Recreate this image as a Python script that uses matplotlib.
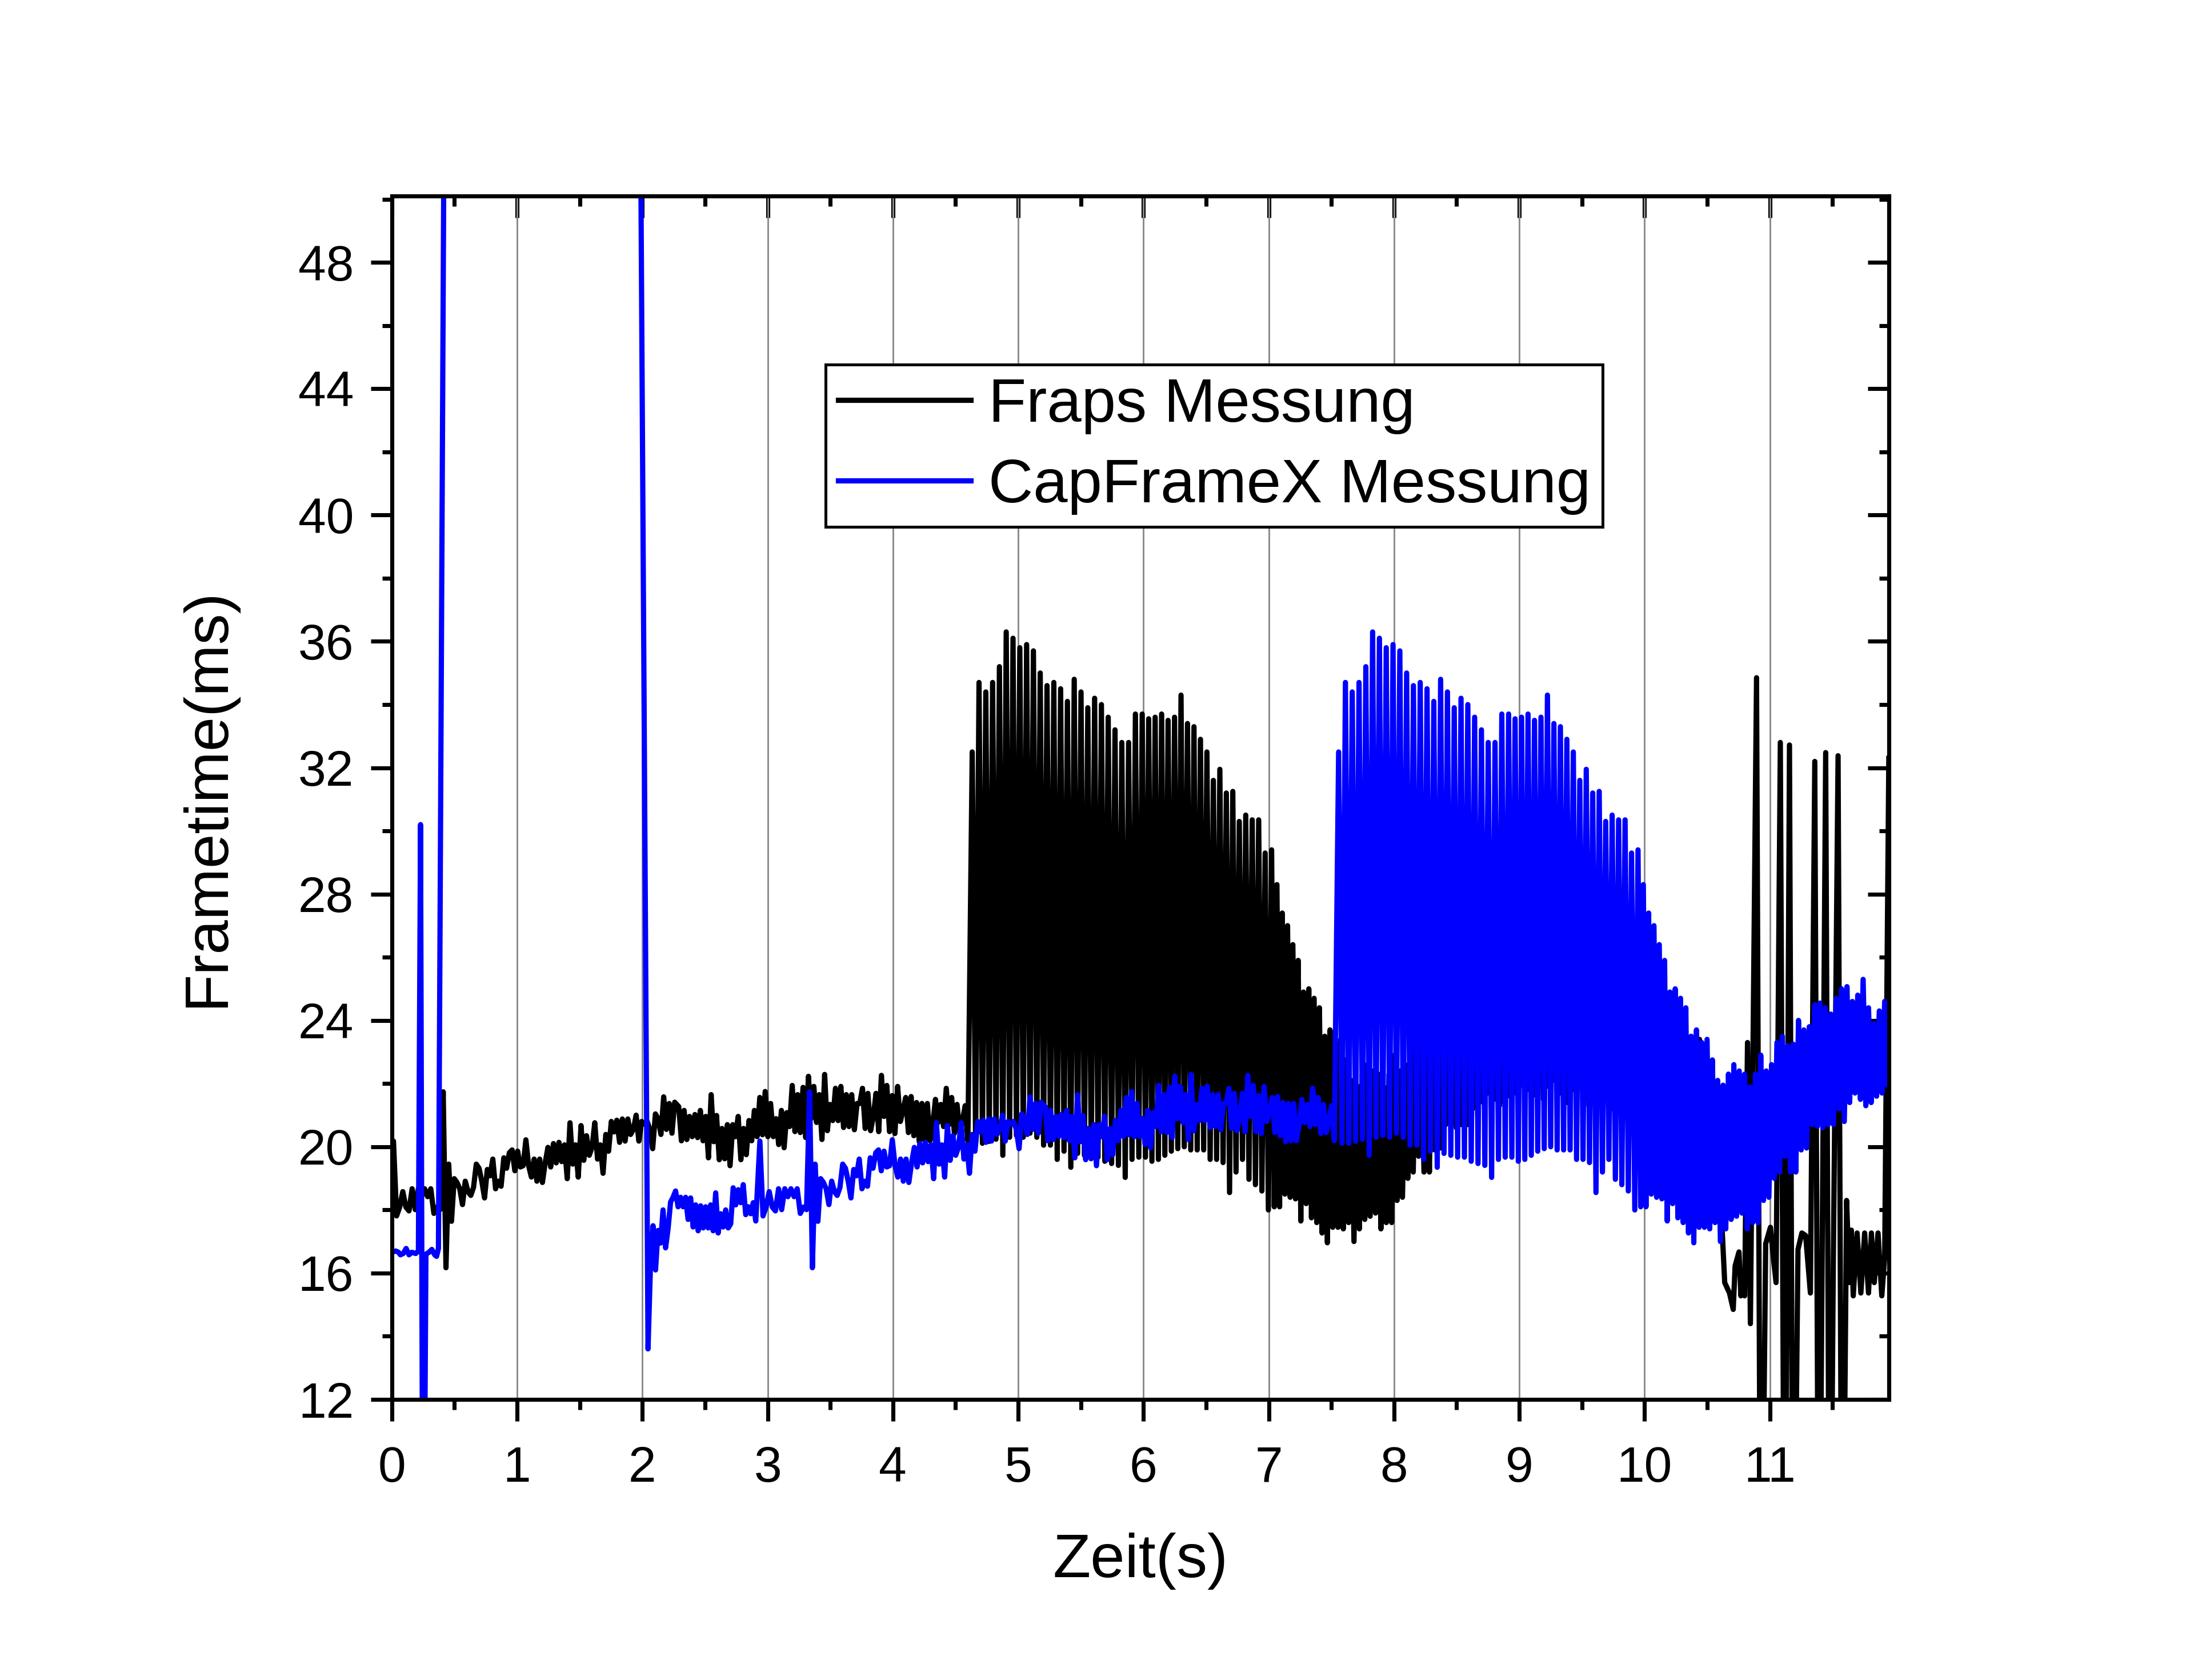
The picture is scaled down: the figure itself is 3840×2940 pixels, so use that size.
import numpy as np
import matplotlib
matplotlib.use('Agg')
import matplotlib.pyplot as plt
from matplotlib.ticker import MultipleLocator

plt.rcParams['font.family'] = ['Liberation Sans', 'DejaVu Sans']

# Both tools recorded the same frames; CapFrameX was started ~2.925 s earlier
capframex_offset = 2.925

# CapFrameX only: the part before the common frames (loading hitch off the chart)
capframex_start_t = [0.0, 0.03, 0.053, 0.068, 0.091, 0.114, 0.137, 0.16, 0.19, 0.212,
                     0.229, 0.25, 0.272, 0.297, 0.319, 0.342, 0.357, 0.372, 1.12]
capframex_start_ms = [16.66, 16.7, 16.66, 16.58, 16.62, 16.78, 16.58, 16.66, 16.62, 16.7,
                      30.2, 2.0, 16.6, 16.66, 16.75, 16.58, 16.53, 16.78, 615.0]

# common frames, on the Fraps time axis
lead_in_ms = [13.6, 16.3, 17.5, 16.1, 17.35, 16.95, 18.0, 16.8, 17.4, 18.25,
              18.4, 18.6, 18.1, 18.4, 18.1, 18.4, 17.7, 18.38, 17.46, 18.16,
              17.34, 18.13, 17.43, 18.1, 17.43, 18.16, 17.34, 18.54, 17.27, 17.88,
              17.46, 18.0, 17.43, 17.56, 18.7, 18.16, 18.64, 18.23, 18.8, 17.85,
              18.1, 17.88, 18.23, 17.65]

ramp_a_ms = [20.18, 17.81, 18.09, 18.58, 18.09, 17.97, 18.67, 18.01, 18.67, 18.42,
             18.67, 18.42, 18.67, 17.89, 18.09, 18.01]

ramp_b_ms = [21.74, 16.17, 19.45, 17.64, 18.99, 18.87, 18.67, 18.17, 18.91, 18.58,
             18.46, 18.71, 19.45, 19.32, 18.91, 18.38, 19.28, 19.08, 19.61, 18.67,
             18.91, 18.75, 19.65, 19.32, 19.81, 19.9, 19.24, 19.86, 19.36, 19.4,
             20.22, 19.4, 19.04, 19.61, 18.91, 19.61, 18.87, 19.49, 19.98, 19.36,
             20.1, 19.49, 20.14, 19.53, 20.06, 18.99, 20.76, 19.45, 20.06, 19.04,
             20.67, 19.57, 20.35, 19.73, 19.98, 20.76, 19.61, 20.06, 19.16, 20.39,
             19.86, 20.8, 20.47, 20.84, 20.14, 20.88, 20.18, 20.88, 20.39, 20.55,
             21.0, 20.18, 20.8, 20.72, 20.8, 20.55, 19.94, 21.04, 20.88, 20.39,
             21.58, 20.55, 21.37, 20.43, 21.41]

ramp_c_ms = [21.27, 20.19, 21.15, 20.23, 20.96, 20.32, 21.02, 20.29, 21.15, 20.19,
             20.96, 19.65, 21.65, 20.16, 20.99, 19.59, 20.58, 19.62, 20.7, 19.4,
             20.7, 20.32, 20.96, 19.59, 20.58, 19.75, 20.83, 20.19, 21.15, 20.32,
             21.56, 20.38, 21.75, 20.32, 21.37, 20.32, 20.89, 20.07, 21.15, 19.97,
             21.08, 20.64, 21.94, 20.48, 21.65, 20.45, 21.88, 20.29, 22.23, 20.89,
             21.91, 20.77, 21.65, 20.23, 22.29, 20.51, 21.34, 20.83, 21.85, 20.83,
             21.91, 20.61, 21.65, 20.64, 21.65, 20.54, 21.37, 21.37, 21.85, 20.58,
             21.69, 20.51, 20.96, 21.69, 20.48, 22.26, 20.96, 21.94, 20.48, 21.62,
             20.42, 21.91, 20.8, 21.15, 21.56, 20.45, 21.59, 20.35, 21.4, 20.16,
             21.37, 20.19, 21.37, 20.19, 20.7, 21.5, 20.77, 21.34, 20.64, 21.85,
             20.7, 21.56, 20.42, 21.34, 20.45, 20.83, 21.3, 20.19]

# stutter phase: long / short frame pairs
peaks_ms = [32.5, 34.7, 34.4, 34.7, 35.2, 36.3, 36.1, 35.8, 35.9, 35.7,
            35.0, 34.6, 34.7, 34.5, 34.1, 34.8, 34.4, 33.9, 34.2, 34.0,
            33.6, 33.2, 32.8, 32.8, 33.7, 33.7, 33.55, 33.6, 33.7, 33.5,
            33.6, 34.3, 33.4, 33.3, 32.9, 32.5, 31.6, 31.95, 31.2, 31.25,
            30.3, 30.5, 30.35, 30.35, 29.3, 29.4, 28.3, 27.4, 27.0, 26.4,
            25.9, 24.9, 25.0, 24.7, 24.4, 23.5, 23.7, 23.3, 23.4, 22.75,
            22.1, 21.95, 22.3, 22.6, 22.4, 22.3, 21.9, 22.3, 22.9, 22.4,
            22.6, 23.3, 23.5, 23.2, 23.25, 24.0, 23.7, 23.8, 24.5, 24.55,
            24.4, 24.2, 24.7, 25.0, 25.07, 24.6, 24.8, 25.3, 24.4, 23.9,
            24.3, 24.6]
lows_ms = [20.11, 20.11, 20.17, 20.24, 19.73, 20.3, 20.36, 20.3, 20.43, 20.3,
           20.05, 20.05, 19.6, 19.86, 19.35, 19.79, 19.73, 19.67, 19.67, 19.54,
           19.47, 19.41, 19.03, 19.6, 19.67, 19.67, 19.54, 19.6, 19.73, 19.86,
           19.94, 20.0, 19.9, 19.9, 19.9, 19.6, 19.6, 19.5, 18.55, 19.2,
           19.6, 18.97, 18.8, 18.6, 18.0, 18.1, 18.1, 18.5, 18.4, 18.35,
           17.65, 18.2, 17.75, 17.6, 17.27, 16.96, 17.45, 17.45, 17.4, 17.6,
           17.0, 17.4, 17.7, 17.8, 17.9, 17.4, 17.6, 17.6, 18.3, 18.4,
           19.0, 19.2, 19.7, 19.2, 19.2, 19.9, 19.96, 20.7, 20.65, 20.6,
           20.7, 20.7, 21.2, 20.8, 21.4, 21.7, 21.5, 21.3, 21.4, 21.6,
           21.7, 21.95]
# peak number where the read-off times below apply
stutter_cuts = [0, 25, 45, 60, 92]
stutter_times = [4.633, 5.990, 7.023, 7.659, 9.035]

# hidden under the CapFrameX curve, estimated
settle_peaks_ms = [24.2, 24.6, 24.0, 24.5, 24.8, 24.3, 24.1, 24.6, 24.9, 24.4,
                   24.0, 24.3, 24.7, 24.2, 23.8, 24.1, 24.5, 23.9, 23.6, 24.0,
                   24.3, 23.7, 23.4, 23.8, 24.1, 23.5, 23.2, 23.6, 23.9, 23.3,
                   23.0, 23.4, 22.8, 22.2, 21.5]
settle_lows_ms = [21.8, 21.6, 22.0, 21.5, 21.9, 22.1, 21.7, 21.4, 21.8, 22.0,
                  21.6, 21.3, 21.7, 21.9, 21.5, 21.2, 21.6, 21.8, 21.4, 21.1,
                  21.5, 21.7, 21.3, 21.0, 21.4, 21.6, 21.2, 20.9, 21.3, 21.5,
                  21.1, 20.8, 20.5, 20.0, 19.2]

# Fraps only: the end of the run
fraps_tail_t = [10.64, 10.678, 10.708, 10.723, 10.754, 10.769, 10.784, 10.799, 10.822, 10.845,
                10.894, 10.929, 10.967, 11.005, 11.028, 11.05, 11.084, 11.119, 11.157, 11.187,
                11.225, 11.256, 11.286, 11.324, 11.359, 11.392, 11.446, 11.479, 11.507, 11.545,
                11.578, 11.613, 11.636, 11.651, 11.666, 11.697, 11.727, 11.757, 11.788, 11.811,
                11.834, 11.864, 11.894, 11.917, 11.95]
fraps_tail_ms = [15.7, 15.37, 14.85, 16.23, 16.67, 15.28, 16.06, 15.28, 23.3, 14.4,
                 34.85, 2.0, 16.93, 17.45, 16.5, 15.7, 32.8, 2.0, 32.72, 2.0,
                 16.75, 17.27, 17.19, 15.37, 32.2, 2.0, 32.48, 2.0, 16.32, 32.38,
                 2.0, 18.3, 15.7, 17.36, 15.28, 17.27, 15.37, 17.27, 15.37, 17.27,
                 15.7, 17.27, 15.28, 16.5, 32.3]


def spread(t0, t1, values):
    # evenly spaced frames between two read-off times
    return np.linspace(t0, t1, len(values), endpoint=False)


seg_t = [spread(-0.88, 0.0, lead_in_ms), spread(0.013, 0.41, ramp_a_ms),
         spread(0.41, 2.28, ramp_b_ms), spread(2.29, 4.62, ramp_c_ms)]
seg_ms = [lead_in_ms, ramp_a_ms, ramp_b_ms, ramp_c_ms]

for i in range(len(stutter_cuts) - 1):
    a, b = stutter_cuts[i], stutter_cuts[i + 1]
    pairs = np.column_stack([peaks_ms[a:b], lows_ms[a:b]]).ravel()
    seg_t.append(spread(stutter_times[i], stutter_times[i + 1], pairs))
    seg_ms.append(pairs)

settle = np.column_stack([settle_peaks_ms, settle_lows_ms]).ravel()
seg_t.append(spread(9.035, 10.62, settle))
seg_ms.append(settle)

common_t = np.concatenate(seg_t)
common_ms = np.concatenate(seg_ms)

fraps_t = np.concatenate([common_t, fraps_tail_t])
fraps_ms = np.concatenate([common_ms, fraps_tail_ms])
capframex_t = np.concatenate([capframex_start_t, common_t + capframex_offset])
capframex_ms = np.concatenate([capframex_start_ms, common_ms])

fig = plt.figure(figsize=(12.8, 9.8), dpi=300)
ax = fig.add_axes([0.1786, 0.167, 0.6823, 0.7163])

ax.plot(fraps_t, fraps_ms, color='black', lw=2.2, label='Fraps Messung')
ax.plot(capframex_t, capframex_ms, color='#0000ff', lw=2.2, label='CapFrameX Messung')

ax.set_xlim(0, 11.95)
ax.set_ylim(12, 50.1)
ax.xaxis.set_major_locator(MultipleLocator(1))
ax.xaxis.set_minor_locator(MultipleLocator(0.5))
ax.yaxis.set_major_locator(MultipleLocator(4))
ax.yaxis.set_minor_locator(MultipleLocator(2))
ax.grid(axis='x', which='major', color='#8a8a8a', lw=0.7)
ax.set_axisbelow(True)

for s in ax.spines.values():
    s.set_linewidth(1.7)
ax.tick_params(which='major', direction='out', length=9, width=1.7, labelsize=21)
ax.tick_params(which='minor', direction='out', length=4.2, width=1.7)
ax.tick_params(axis='x', pad=10.5)
ax.tick_params(axis='y', pad=7)

# inward ticks on the top and right edges
top = ax.secondary_xaxis('top')
top.xaxis.set_major_locator(MultipleLocator(1))
top.xaxis.set_minor_locator(MultipleLocator(0.5))
right = ax.secondary_yaxis('right')
right.yaxis.set_major_locator(MultipleLocator(4))
right.yaxis.set_minor_locator(MultipleLocator(2))
for sec in (top, right):
    sec.tick_params(which='major', direction='in', length=9, width=1.7)
    sec.tick_params(which='minor', direction='in', length=4.2, width=1.7)
    sec.tick_params(labeltop=False, labelright=False)
    for s in sec.spines.values():
        s.set_linewidth(1.7)

ax.set_xlabel('Zeit(s)', fontsize=26, labelpad=17)
ax.set_ylabel('Frametime(ms)', fontsize=26, labelpad=26)

leg = ax.legend(loc='upper left', bbox_to_anchor=(0.2897, 0.860), fontsize=26,
                frameon=True, fancybox=False, edgecolor='black', framealpha=1,
                borderpad=0.2, handlelength=2.15, handletextpad=0.28,
                labelspacing=0.38, borderaxespad=0)
leg.get_frame().set_linewidth(1.2)

fig.savefig('out.png', dpi=300)
